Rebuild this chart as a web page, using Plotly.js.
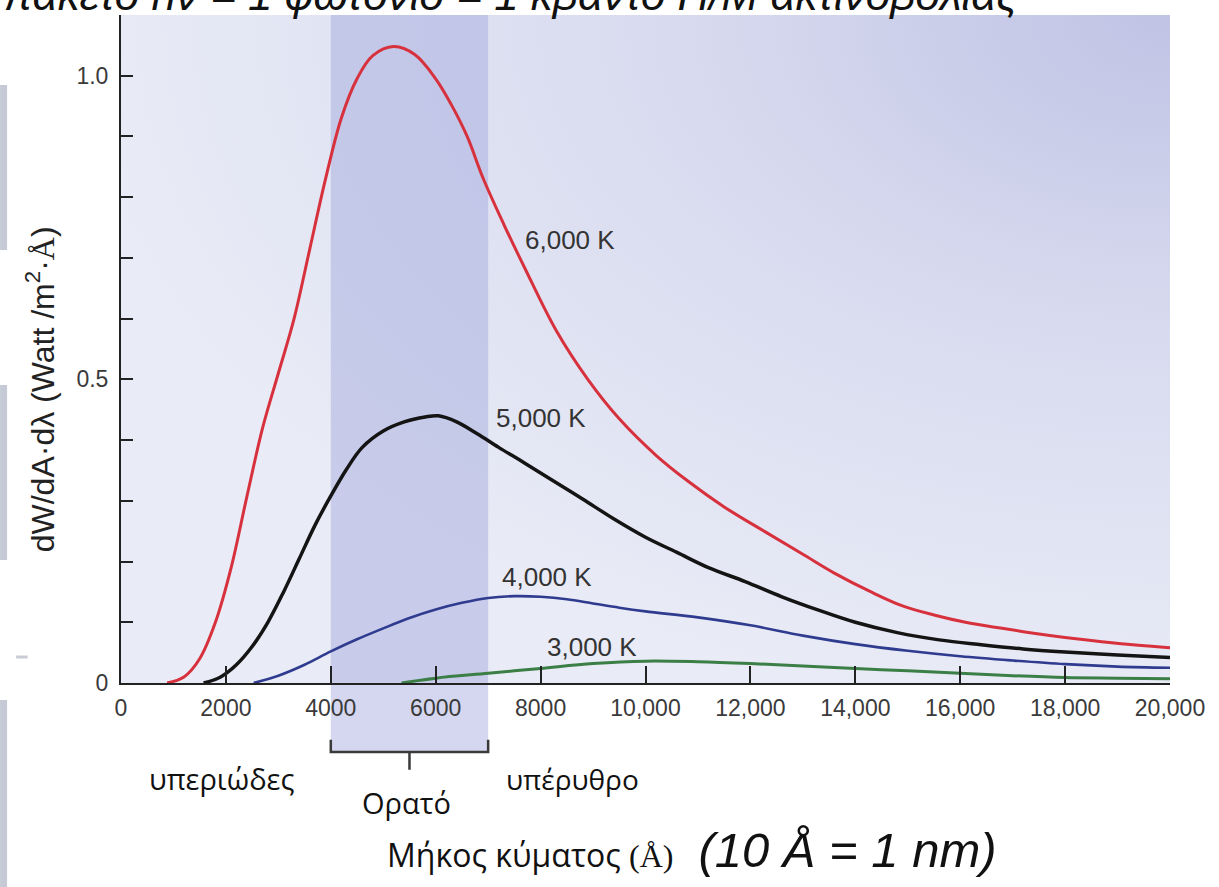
<!DOCTYPE html>
<html><head><meta charset="utf-8">
<script src="https://cdn.plot.ly/plotly-3.0.1.min.js"></script>
<style>html,body{margin:0;padding:0;background:#fff;overflow:hidden}#chart{width:1219px;height:887px}</style>
</head><body><div id="chart"></div>
<script>
// Wavelength (Å) and spectral intensity
const red6000_x = [880, 1200, 1500, 1800, 2100, 2400, 2700, 3000, 3300, 3600, 3900, 4200, 4500, 4800, 5200, 5600, 6000, 6300, 6600, 6900, 7300, 7700, 8300, 8900, 9500, 10200, 10800, 11500, 12300, 13000, 13600, 14300, 14900, 15500, 16100, 16800, 17400, 18000, 18700, 19400, 20000];
const red6000_y = [0, 0.01, 0.04, 0.1, 0.19, 0.307, 0.42, 0.51, 0.6, 0.715, 0.83, 0.93, 0.995, 1.033, 1.048, 1.035, 0.995, 0.952, 0.9, 0.832, 0.755, 0.683, 0.58, 0.5, 0.435, 0.375, 0.333, 0.29, 0.248, 0.212, 0.181, 0.15, 0.127, 0.112, 0.1, 0.09, 0.082, 0.075, 0.068, 0.062, 0.058];
const black5000_x = [1575, 1900, 2200, 2500, 2800, 3100, 3400, 3700, 4000, 4300, 4600, 5000, 5400, 5800, 6050, 6400, 6800, 7200, 7700, 8200, 8800, 9400, 10000, 10600, 11200, 11900, 12600, 13300, 14000, 14800, 15600, 16400, 17200, 18000, 19000, 20000];
const black5000_y = [0, 0.01, 0.03, 0.06, 0.1, 0.15, 0.205, 0.26, 0.308, 0.352, 0.388, 0.415, 0.43, 0.438, 0.44, 0.43, 0.41, 0.388, 0.362, 0.335, 0.303, 0.27, 0.24, 0.215, 0.19, 0.167, 0.142, 0.12, 0.1, 0.083, 0.071, 0.063, 0.056, 0.051, 0.046, 0.042];
const blue4000_x = [2530, 3000, 3500, 4000, 4500, 5000, 5500, 6000, 6500, 7000, 7500, 8000, 8500, 9000, 9500, 10000, 11000, 12000, 13000, 14000, 15000, 16000, 17000, 18000, 19000, 20000];
const blue4000_y = [0, 0.012, 0.03, 0.052, 0.072, 0.09, 0.107, 0.121, 0.132, 0.14, 0.143, 0.142, 0.138, 0.131, 0.124, 0.118, 0.108, 0.095, 0.078, 0.064, 0.053, 0.044, 0.037, 0.031, 0.027, 0.025];
const green3000_x = [5350, 6000, 7000, 8000, 9000, 10000, 11000, 12000, 13000, 14000, 15000, 16000, 17000, 18000, 19000, 20000];
const green3000_y = [0, 0.008, 0.016, 0.024, 0.032, 0.036, 0.035, 0.032, 0.028, 0.024, 0.02, 0.016, 0.012, 0.009, 0.008, 0.007];

const seriesNames = ['6,000 K', '5,000 K', '4,000 K', '3,000 K'];
const seriesColors = ['#d7313d', '#141414', '#2f3b8f', '#3b7f46'];
const labelX = [8560, 8010, 8120, 8980];
const labelY = [0.73, 0.437, 0.175, 0.059];

const xTickVals = [0, 2000, 4000, 6000, 8000, 10000, 12000, 14000, 16000, 18000, 20000];
const xTickText = ['0', '2000', '4000', '6000', '8000', '10,000', '12,000', '14,000', '16,000', '18,000', '20,000'];
const yTickVals = [0, 0.5, 1.0];
const yTickText = ['0', '0.5', '1.0'];

const visibleBand = [4000, 7000];
const regionNames = ['υπεριώδες', 'Ορατό', 'υπέρυθρο'];
const regionX = [1925, 5450, 8600];

const xs = [red6000_x, black5000_x, blue4000_x, green3000_x];
const ys = [red6000_y, black5000_y, blue4000_y, green3000_y];
const widths = [3, 3.5, 2.6, 3];

const traces = xs.map((x, i) => ({
  type: 'scatter', mode: 'lines', x: x, y: ys[i], name: seriesNames[i],
  line: {color: seriesColors[i], width: widths[i], shape: 'spline', smoothing: 1},
  hoverinfo: 'skip', showlegend: false
}));

const bgSvg = "<svg xmlns='http://www.w3.org/2000/svg' viewBox='0 0 100 100' preserveAspectRatio='none' width='100' height='100'>" +
  "<defs><radialGradient id='g' cx='1' cy='0' r='1.05' gradientUnits='objectBoundingBox'>" +
  "<stop offset='0' stop-color='#c0c3e4'/><stop offset='0.45' stop-color='#d8dbef'/><stop offset='1' stop-color='#e9ebf6'/>" +
  "</radialGradient></defs><rect x='0' y='0' width='100' height='100' fill='url(#g)'/></svg>";
const bgUri = 'data:image/svg+xml;charset=utf-8,' + encodeURIComponent(bgSvg);

const font = 'Liberation Sans, Arial, sans-serif';
const greekFont = 'Open Sans, Noto Sans, sans-serif';

const annotations = [];
seriesNames.forEach((n, i) => annotations.push({
  x: labelX[i], y: labelY[i], xref: 'x', yref: 'y', text: n, showarrow: false,
  xanchor: 'center', yanchor: 'middle',
  font: {family: font, size: 26, color: '#333'}
}));
annotations.push({x: regionX[0], y: -0.1437, xref: 'x', yref: 'paper', xanchor: 'center', yanchor: 'middle', text: regionNames[0], showarrow: false, font: {family: greekFont, size: 29, color: '#111'}});
annotations.push({x: regionX[1], y: -0.1796, xref: 'x', yref: 'paper', xanchor: 'center', yanchor: 'middle', text: regionNames[1], showarrow: false, font: {family: greekFont, size: 29, color: '#111'}});
annotations.push({x: regionX[2], y: -0.1437, xref: 'x', yref: 'paper', xanchor: 'center', yanchor: 'middle', text: regionNames[2], showarrow: false, font: {family: greekFont, size: 28, color: '#111'}});
annotations.push({
  x: 0.544, y: -0.25, xref: 'paper', yref: 'paper', xanchor: 'center', yanchor: 'middle', showarrow: false,
  text: "Μήκος κύματος <span style='font-family:Liberation Serif, serif'>(Å)</span>&nbsp;&nbsp;&nbsp;<i style='font-family:Liberation Sans, Arial;font-size:49px'>(10 Å = 1 nm)</i>",
  font: {family: greekFont, size: 32, color: '#111'}
});
annotations.push({
  x: (1020 - 121) / 1049, y: 0.9903, xref: 'paper', yref: 'paper', xanchor: 'right', yanchor: 'bottom', showarrow: false,
  text: '<i>1 πακέτο hν = 1 φωτόνιο = 1 κβάντο Η/Μ ακτινοβολίας</i>',
  font: {family: 'Liberation Sans, Arial', size: 44, color: '#111'}
});
annotations.push({
  x: -0.077, y: 0.44, xref: 'paper', yref: 'paper', xanchor: 'center', yanchor: 'middle', showarrow: false, textangle: -90,
  text: "dW/dA·dλ (Watt /m<sup>2</sup>·<span style='font-family:Liberation Serif, serif'>Å</span>)",
  font: {family: font, size: 32, color: '#222'}
});

const stripColor = '#c6cad6';
const shapes = [
  {type: 'rect', xref: 'x', yref: 'paper', x0: visibleBand[0], x1: visibleBand[1], y0: -0.1033, y1: 1,
   fillcolor: 'rgba(160,166,220,0.45)', line: {width: 0}, layer: 'below'},
  {type: 'path', xref: 'x', yref: 'paper', layer: 'above',
   path: `M ${visibleBand[0]},-0.085 L ${visibleBand[0]},-0.1033 L ${visibleBand[1]},-0.1033 L ${visibleBand[1]},-0.085 M ${(visibleBand[0]+visibleBand[1])/2},-0.1033 L ${(visibleBand[0]+visibleBand[1])/2},-0.13`,
   line: {color: '#3a3a3a', width: 2.5}},
  // slide side strips
  {type: 'rect', xref: 'paper', yref: 'paper', x0: -0.1153, x1: -0.1086, y0: 0.8952, y1: 0.6482, fillcolor: stripColor, line: {width: 0}},
  {type: 'rect', xref: 'paper', yref: 'paper', x0: -0.1153, x1: -0.1086, y0: 0.4461, y1: 0.1841, fillcolor: stripColor, line: {width: 0}},
  {type: 'rect', xref: 'paper', yref: 'paper', x0: -0.1153, x1: -0.1086, y0: -0.0254, y1: -0.31, fillcolor: stripColor, line: {width: 0}},
  {type: 'line', xref: 'paper', yref: 'paper', x0: -0.1, x1: -0.089, y0: 0.0389, y1: 0.0389, line: {color: '#c9ccd4', width: 3}}
];

const layout = {
  width: 1219, height: 887,
  margin: {l: 121, r: 49, t: 15, b: 204},
  paper_bgcolor: '#ffffff', plot_bgcolor: '#e8eaf5',
  showlegend: false,
  images: [{source: bgUri, xref: 'paper', yref: 'paper', x: 0, y: 1, sizex: 1, sizey: 1, sizing: 'stretch', xanchor: 'left', yanchor: 'top', layer: 'below'}],
  xaxis: {range: [0, 20000], tickmode: 'array', tickvals: xTickVals, ticktext: xTickText,
    ticks: 'inside', ticklen: 17, tickwidth: 2, tickcolor: '#222', showline: true, linecolor: '#222', linewidth: 2,
    showgrid: false, zeroline: false, ticklabelstandoff: 3, fixedrange: true,
    tickfont: {family: font, size: 23, color: '#3a3a3a'}},
  yaxis: {range: [0, 1.1], tickmode: 'array', tickvals: yTickVals, ticktext: yTickText,
    ticks: 'inside', ticklen: 12, tickwidth: 2, tickcolor: '#222', showline: true, linecolor: '#222', linewidth: 2,
    minor: {ticks: 'inside', ticklen: 12, tickwidth: 2, tickcolor: '#222', dtick: 0.1, tick0: 0, showgrid: false},
    showgrid: false, zeroline: false, ticklabelstandoff: 6, fixedrange: true,
    tickfont: {family: font, size: 23, color: '#3a3a3a'}},
  annotations: annotations,
  shapes: shapes
};

Plotly.newPlot('chart', traces, layout, {displayModeBar: false, staticPlot: true});
</script>
</body></html>
